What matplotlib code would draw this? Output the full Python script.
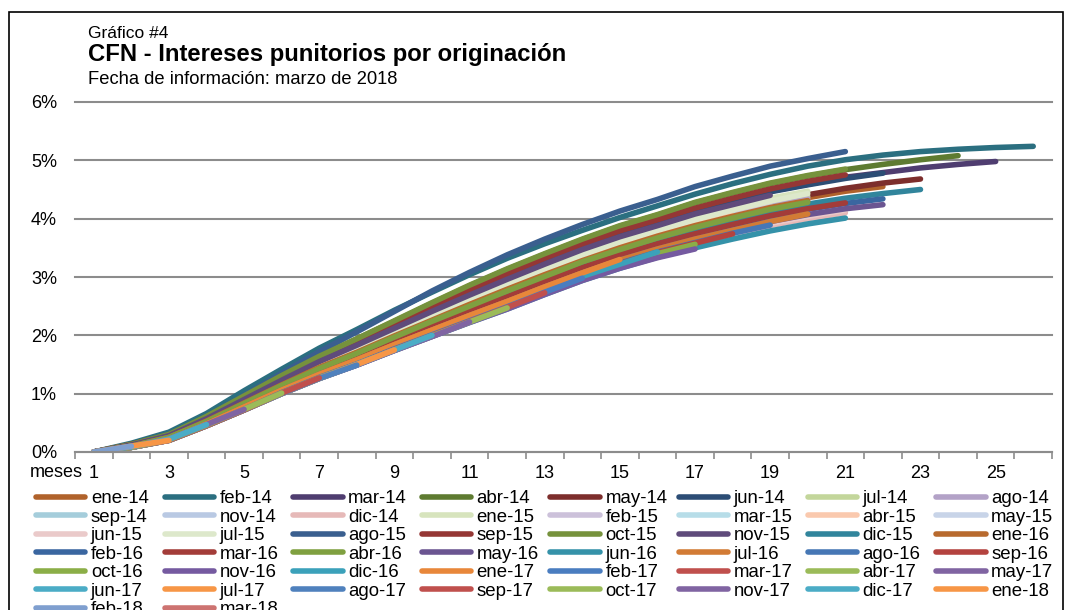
import matplotlib
matplotlib.use('Agg')
import matplotlib.pyplot as plt
from matplotlib.patches import Rectangle

# interest (%) by month since origination, one list per vintage
ene_14 = [0, .11, .26, .53, .85, 1.17, 1.47, 1.73, 2.02, 2.29, 2.56, 2.82, 3.08, 3.32, 3.54, 3.74, 3.92, 4.08, 4.23, 4.36, 4.47, 4.55]
feb_14 = [0, .15, .34, .66, 1.05, 1.42, 1.78, 2.10, 2.43, 2.74, 3.04, 3.32, 3.57, 3.80, 4.02, 4.22, 4.42, 4.60, 4.76, 4.90, 5.01, 5.09, 5.15, 5.19, 5.22, 5.24]
mar_14 = [0, .12, .29, .58, .92, 1.26, 1.58, 1.86, 2.16, 2.46, 2.74, 3.02, 3.28, 3.53, 3.75, 3.94, 4.14, 4.31, 4.47, 4.59, 4.71, 4.79, 4.87, 4.93, 4.98]
abr_14 = [0, .13, .30, .60, .96, 1.31, 1.64, 1.94, 2.24, 2.55, 2.85, 3.13, 3.39, 3.64, 3.87, 4.06, 4.27, 4.44, 4.60, 4.73, 4.84, 4.93, 5.01, 5.08]
may_14 = [0, .11, .26, .54, .87, 1.19, 1.49, 1.76, 2.05, 2.33, 2.61, 2.87, 3.13, 3.37, 3.59, 3.79, 3.97, 4.14, 4.29, 4.41, 4.52, 4.61, 4.68]
jun_14 = [0, .12, .28, .58, .92, 1.25, 1.57, 1.86, 2.15, 2.45, 2.74, 3.01, 3.27, 3.52, 3.74, 3.93, 4.13, 4.30, 4.46, 4.58, 4.69, 4.78]
jul_14 = [0, .11, .26, .54, .86, 1.18, 1.48, 1.75, 2.03, 2.31, 2.58, 2.84, 3.10, 3.34, 3.56, 3.76, 3.94, 4.10, 4.26, 4.38]
ago_14 = [0, .11, .25, .53, .85, 1.16, 1.46, 1.72, 2.00, 2.28, 2.55, 2.80, 3.06, 3.30, 3.52, 3.72, 3.90, 4.06, 4.21, 4.34]
sep_14 = [0, .11, .26, .54, .87, 1.19, 1.49, 1.76, 2.05, 2.33, 2.61, 2.87, 3.13, 3.37, 3.59, 3.79, 3.97, 4.14, 4.29]
nov_14 = [0, .10, .25, .52, .84, 1.15, 1.44, 1.70, 1.98, 2.25, 2.52, 2.78, 3.03, 3.28, 3.49, 3.69, 3.87, 4.03, 4.18]
dic_14 = [0, .09, .21, .47, .75, 1.03, 1.30, 1.54, 1.80, 2.04, 2.29, 2.52, 2.78, 3.02, 3.23, 3.42, 3.58, 3.74, 3.88, 4.00, 4.10]
ene_15 = [0, .12, .27, .56, .89, 1.21, 1.52, 1.80, 2.09, 2.37, 2.65, 2.92, 3.18, 3.42, 3.64, 3.84, 4.03, 4.19, 4.35, 4.47]
feb_15 = [0, .11, .26, .53, .85, 1.17, 1.47, 1.73, 2.02, 2.29, 2.56, 2.82, 3.08, 3.32, 3.54, 3.74, 3.92, 4.08, 4.23]
mar_15 = [0, .11, .26, .54, .86, 1.18, 1.48, 1.75, 2.03, 2.31, 2.58, 2.84, 3.10, 3.34, 3.56, 3.76, 3.94, 4.10]
abr_15 = [0, .11, .25, .53, .85, 1.16, 1.46, 1.72, 2.00, 2.28, 2.55, 2.80, 3.06, 3.30, 3.52, 3.72, 3.90, 4.06]
may_15 = [0, .10, .25, .52, .84, 1.15, 1.44, 1.70, 1.98, 2.25, 2.52, 2.78, 3.03, 3.28, 3.49, 3.69, 3.87, 4.03]
jun_15 = [0, .09, .22, .48, .76, 1.05, 1.32, 1.56, 1.82, 2.07, 2.32, 2.56, 2.81, 3.06, 3.27, 3.46, 3.63, 3.78, 3.92, 4.04, 4.15]
jul_15 = [0, .11, .26, .55, .87, 1.19, 1.50, 1.77, 2.06, 2.34, 2.62, 2.88, 3.14, 3.38, 3.60, 3.80, 3.98, 4.15, 4.30, 4.43]
ago_15 = [0, .12, .30, .60, .97, 1.35, 1.72, 2.06, 2.41, 2.76, 3.08, 3.38, 3.65, 3.90, 4.13, 4.33, 4.55, 4.73, 4.90, 5.03, 5.15]
sep_15 = [0, .13, .29, .59, .93, 1.27, 1.60, 1.89, 2.19, 2.49, 2.78, 3.05, 3.32, 3.56, 3.79, 3.98, 4.18, 4.35, 4.51, 4.64, 4.75]
oct_15 = [0, .13, .30, .61, .96, 1.31, 1.64, 1.94, 2.25, 2.56, 2.86, 3.14, 3.40, 3.65, 3.88, 4.07, 4.28, 4.45, 4.61, 4.74, 4.85]
nov_15 = [0, .12, .28, .57, .90, 1.23, 1.55, 1.83, 2.12, 2.41, 2.69, 2.96, 3.22, 3.47, 3.69, 3.88, 4.08, 4.24, 4.40]
dic_15 = [0, .10, .24, .51, .82, 1.13, 1.42, 1.67, 1.95, 2.21, 2.48, 2.73, 2.99, 3.23, 3.44, 3.64, 3.82, 3.97, 4.12, 4.25, 4.35, 4.43, 4.50]
ene_16 = [0, .10, .25, .53, .84, 1.15, 1.45, 1.71, 1.99, 2.26, 2.53, 2.79, 3.04, 3.28, 3.50, 3.70, 3.88, 4.04, 4.19, 4.31]
feb_16 = [0, .10, .23, .50, .79, 1.09, 1.37, 1.62, 1.89, 2.15, 2.41, 2.65, 2.91, 3.15, 3.37, 3.56, 3.73, 3.89, 4.03, 4.16, 4.26, 4.34]
mar_16 = [0, .10, .23, .50, .80, 1.10, 1.38, 1.63, 1.90, 2.16, 2.42, 2.66, 2.92, 3.16, 3.38, 3.57, 3.74, 3.90, 4.05, 4.17, 4.27]
abr_16 = [0, .10, .25, .52, .83, 1.14, 1.43, 1.69, 1.97, 2.24, 2.50, 2.76, 3.01, 3.26, 3.47, 3.67, 3.85, 4.01, 4.16, 4.28]
may_16 = [0, .09, .22, .48, .77, 1.06, 1.33, 1.58, 1.84, 2.09, 2.34, 2.58, 2.83, 3.07, 3.29, 3.48, 3.65, 3.80, 3.95, 4.07, 4.17, 4.24]
jun_16 = [0, .08, .20, .45, .72, 1.00, 1.26, 1.49, 1.74, 1.98, 2.22, 2.45, 2.70, 2.94, 3.15, 3.34, 3.50, 3.65, 3.79, 3.91, 4.01]
jul_16 = [0, .09, .22, .48, .77, 1.06, 1.33, 1.58, 1.84, 2.09, 2.34, 2.58, 2.83, 3.07, 3.29, 3.48, 3.65, 3.80, 3.95, 4.08]
ago_16 = [0, .09, .21, .47, .75, 1.04, 1.31, 1.54, 1.80, 2.05, 2.30, 2.53, 2.79, 3.03, 3.24, 3.43, 3.59, 3.75, 3.89]
sep_16 = [0, .09, .21, .47, .75, 1.03, 1.30, 1.54, 1.80, 2.04, 2.29, 2.52, 2.78, 3.02, 3.23, 3.42, 3.58, 3.74]
oct_16 = [0, .08, .21, .46, .74, 1.03, 1.29, 1.53, 1.78, 2.03, 2.27, 2.51, 2.76, 3.00, 3.21, 3.40, 3.56]
nov_16 = [0, .08, .20, .45, .72, 1.00, 1.26, 1.49, 1.74, 1.98, 2.22, 2.45, 2.70, 2.94, 3.15, 3.33, 3.48]
dic_16 = [0, .08, .21, .46, .74, 1.03, 1.30, 1.53, 1.79, 2.03, 2.28, 2.52, 2.77, 3.01, 3.22, 3.43]
ene_17 = [0, .09, .22, .48, .77, 1.06, 1.33, 1.58, 1.84, 2.09, 2.34, 2.58, 2.83, 3.07, 3.30]
feb_17 = [0, .08, .21, .46, .73, 1.02, 1.28, 1.51, 1.77, 2.01, 2.25, 2.49, 2.74, 2.98]
mar_17 = [0, .08, .21, .46, .73, 1.01, 1.27, 1.50, 1.76, 2.00, 2.24, 2.48, 2.73]
abr_17 = [0, .08, .20, .45, .73, 1.01, 1.27, 1.50, 1.75, 1.99, 2.23, 2.47]
may_17 = [0, .08, .20, .45, .72, 1.00, 1.26, 1.49, 1.74, 1.98, 2.23]
jun_17 = [0, .08, .20, .45, .72, 1.00, 1.26, 1.50, 1.75, 2.00]
jul_17 = [0, .08, .20, .45, .72, 1.00, 1.26, 1.50, 1.75]
ago_17 = [0, .08, .20, .45, .72, 1.00, 1.26, 1.49]
sep_17 = [0, .08, .20, .45, .72, 1.01, 1.27]
oct_17 = [0, .08, .21, .46, .73, 1.01]
nov_17 = [0, .09, .22, .47, .73]
dic_17 = [0, .09, .22, .47]
ene_18 = [0, .10, .20]
feb_18 = [0, .10]
mar_18 = [0]

series = [ene_14, feb_14, mar_14, abr_14, may_14, jun_14, jul_14, ago_14, sep_14, nov_14,
          dic_14, ene_15, feb_15, mar_15, abr_15, may_15, jun_15, jul_15, ago_15, sep_15,
          oct_15, nov_15, dic_15, ene_16, feb_16, mar_16, abr_16, may_16, jun_16, jul_16,
          ago_16, sep_16, oct_16, nov_16, dic_16, ene_17, feb_17, mar_17, abr_17, may_17,
          jun_17, jul_17, ago_17, sep_17, oct_17, nov_17, dic_17, ene_18, feb_18, mar_18]

labels = ['ene-14', 'feb-14', 'mar-14', 'abr-14', 'may-14', 'jun-14', 'jul-14', 'ago-14', 'sep-14', 'nov-14',
          'dic-14', 'ene-15', 'feb-15', 'mar-15', 'abr-15', 'may-15', 'jun-15', 'jul-15', 'ago-15', 'sep-15',
          'oct-15', 'nov-15', 'dic-15', 'ene-16', 'feb-16', 'mar-16', 'abr-16', 'may-16', 'jun-16', 'jul-16',
          'ago-16', 'sep-16', 'oct-16', 'nov-16', 'dic-16', 'ene-17', 'feb-17', 'mar-17', 'abr-17', 'may-17',
          'jun-17', 'jul-17', 'ago-17', 'sep-17', 'oct-17', 'nov-17', 'dic-17', 'ene-18', 'feb-18', 'mar-18']

colors = ['#B0622B', '#2B6F80', '#4F3D70', '#5E7B31', '#7D2E2C', '#2C4D75', '#C3D69B', '#B3A2C7', '#A5CDDB', '#B9C9E3',
          '#E6B9B8', '#D7E4BD', '#CCC1DA', '#B7DDE8', '#FAC9AE', '#C8D4E8', '#EACACA', '#DDE8CB', '#3A5F8F', '#953735',
          '#76923C', '#5F4B7B', '#31859C', '#B86A2E', '#3A66A0', '#A33C39', '#7FA040', '#6B5591', '#3592A9', '#D27B35',
          '#4677B5', '#B4433F', '#8BAE47', '#755AA0', '#3BA1BA', '#E8873A', '#4A7DC0', '#C0504D', '#9BBB59', '#8064A2',
          '#4BACC6', '#F79646', '#4F81BD', '#C0504D', '#9BBB59', '#8064A2', '#4BACC6', '#F79646', '#7F9FCF', '#CD7371']

month_ticks = list(range(1, 26, 2))
pct_ticks = [0, 1, 2, 3, 4, 5, 6]

plt.rcParams['font.family'] = ['Liberation Sans', 'DejaVu Sans']

W, H = 1073, 610
fig = plt.figure(figsize=(W / 100, H / 100), dpi=100)
ax = fig.add_axes([75 / W, 1 - 452 / H, (1052 - 75) / W, (452 - 102) / H])

grey = '#8c8c8c'
lines = []
for vals, name, col in zip(series, labels, colors):
    x = list(range(1, len(vals) + 1))
    ln, = ax.plot(x, vals, color=col, lw=4.0, solid_capstyle='round',
                  solid_joinstyle='round', label=name)
    lines.append(ln)

ax.set_xlim(0.5, 26.5)
ax.set_ylim(0, 6)
ax.set_yticks(pct_ticks)
ax.set_yticklabels([f'{v}%' for v in pct_ticks])
ax.set_xticks(month_ticks)
ax.set_xticklabels([str(m) for m in month_ticks])
ax.set_xticks([m + 0.5 for m in range(0, 27)], minor=True)
ax.yaxis.grid(True, color=grey, lw=1.5)
for gl in ax.get_ygridlines():
    gl.set_clip_on(False)
ax.set_axisbelow(True)

ax.tick_params(axis='y', length=0, pad=13, labelsize=13)
ax.tick_params(axis='x', which='major', length=0, pad=9, labelsize=13)
ax.tick_params(axis='x', which='minor', length=5, width=1.2, color=grey, direction='out')
for side in ['top', 'right', 'left']:
    ax.spines[side].set_visible(False)
ax.spines['bottom'].set_color(grey)
ax.spines['bottom'].set_linewidth(1.5)

fig.text(30 / W, 1 - 477 / H, 'meses', fontsize=13, va='baseline')
fig.text(88 / W, 1 - 38 / H, 'Gráfico #4', fontsize=12.5, va='baseline')
fig.text(88 / W, 1 - 61 / H, 'CFN - Intereses punitorios por originación', fontsize=17.2,
         fontweight='bold', va='baseline')
fig.text(88 / W, 1 - 84 / H, 'Fecha de información: marzo de 2018', fontsize=13.2, va='baseline')

# legend laid out row by row, 8 columns
for j in range(8):
    fig.legend(handles=lines[j::8], loc='upper left',
               bbox_to_anchor=((36 + 128.6 * j) / W, 1 - 490 / H),
               frameon=False, fontsize=13.4, handlelength=2.65, handletextpad=0.3,
               labelspacing=0.08, borderpad=0, borderaxespad=0)

fig.add_artist(Rectangle((9 / W, -0.1), (1063 - 9) / W, 1.1 - 12 / H,
                         transform=fig.transFigure, fill=False, edgecolor='black', lw=1.2))

fig.savefig('out.png', dpi=100)
